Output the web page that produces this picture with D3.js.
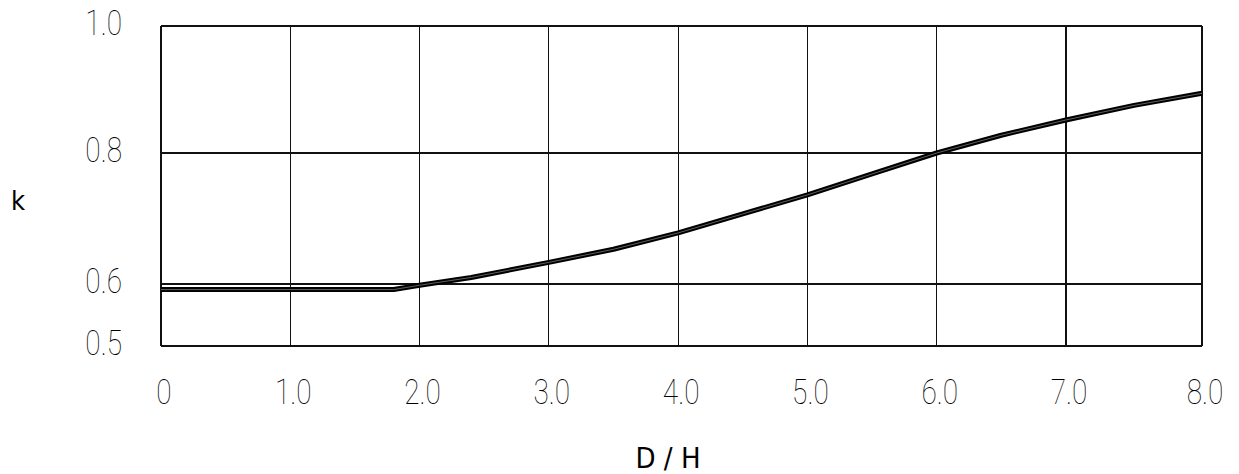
<!DOCTYPE html>
<html><head><meta charset="utf-8">
<script src="https://cdn.jsdelivr.net/npm/d3@7"></script>
<style>
html,body{margin:0;padding:0;background:#fff;}
svg{display:block;}
.tick{font-family:"Roboto",sans-serif;font-weight:100;font-size:35px;fill:#000;}
.title{font-family:"DejaVu Sans Condensed","DejaVu Sans",sans-serif;fill:#000;}
</style></head>
<body>
<script>
const xValues = [0, 1.8, 2.0, 2.4, 3.0, 3.5, 4.0, 4.5, 5.0, 5.5, 6.0, 6.5, 7.0, 7.5, 8.0];
const kValues = [0.591, 0.591, 0.598, 0.610, 0.633, 0.653, 0.678, 0.707, 0.736, 0.768, 0.800, 0.828, 0.852, 0.875, 0.894];
const xTicks = [0, 1, 2, 3, 4, 5, 6, 7, 8];
const xTickLabels = ["0", "1.0", "2.0", "3.0", "4.0", "5.0", "6.0", "7.0", "8.0"];
const yTicks = [0.5, 0.6, 0.8, 1.0];
const yTickLabels = ["0.5", "0.6", "0.8", "1.0"];

const W = 1239, H = 474;
const svg = d3.select("body").append("svg").attr("width", W).attr("height", H);

const x = d3.scaleLinear().domain([0, 7, 8]).range([161, 1066, 1202]);
const y = d3.scaleLinear().domain([0.5, 0.6, 0.8, 1.0]).range([346, 284, 153, 26]);

const g = svg.append("g");
g.selectAll("line.v").data(xTicks).enter().append("line")
  .attr("x1", d => x(d)).attr("x2", d => x(d))
  .attr("y1", y(1.0)).attr("y2", y(0.5))
  .attr("stroke", "#111").attr("stroke-width", 1.2).attr("shape-rendering", "crispEdges");
g.selectAll("line.h").data(yTicks).enter().append("line")
  .attr("x1", x(0)).attr("x2", x(8))
  .attr("y1", d => y(d)).attr("y2", d => y(d))
  .attr("stroke", "#111").attr("stroke-width", 1.2).attr("shape-rendering", "crispEdges");

const sx = 0.8;
g.selectAll("text.xt").data(xTicks).enter().append("text")
  .attr("class", "tick")
  .attr("transform", d => `translate(${x(d) + 3},404) scale(${sx},1)`)
  .attr("text-anchor", "middle")
  .text((d, i) => xTickLabels[i]);
g.selectAll("text.yt").data(yTicks).enter().append("text")
  .attr("class", "tick")
  .attr("transform", d => `translate(122,${y(d) + 9}) scale(${sx},1)`)
  .attr("text-anchor", "end")
  .text((d, i) => yTickLabels[i]);

const pts = xValues.map((v, i) => [v, kValues[i]]);
const line = d3.line().x(d => x(d[0])).y(d => y(d[1]));
g.append("path").datum(pts).attr("d", line)
  .attr("fill", "none").attr("stroke", "#000").attr("stroke-width", 5).attr("stroke-linejoin", "round");
g.append("path").datum(pts).attr("d", line)
  .attr("fill", "none").attr("stroke", "#777").attr("stroke-width", 0.8);

svg.append("text").attr("class", "title").attr("x", 18).attr("y", 210)
  .attr("text-anchor", "middle").attr("font-size", 27).text("k");
svg.append("text").attr("class", "title").attr("x", 668).attr("y", 468)
  .attr("text-anchor", "middle").attr("font-size", 29).text("D / H");
</script>
</body></html>
